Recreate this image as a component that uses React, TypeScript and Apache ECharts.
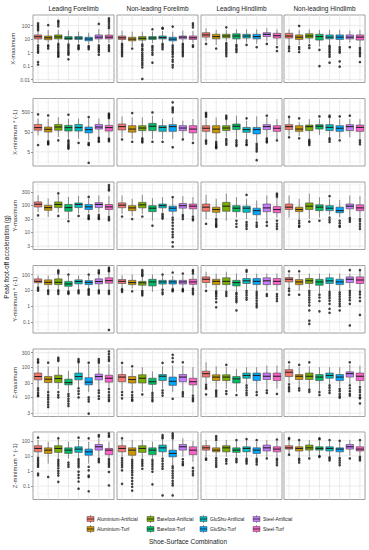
import React, { useEffect, useRef } from 'react';
import * as echarts from 'echarts';

const FONT = 'Liberation Sans, Arial, Helvetica, sans-serif';

const facets = ['Leading Forelimb', 'Non-leading Forelimb', 'Leading Hindlimb', 'Non-leading Hindlimb'];
const combos = ['Aluminium-Artificial', 'Aluminium-Turf', 'Barefoot-Artificial', 'Barefoot-Turf', 'GluShu-Artificial', 'GluShu-Turf', 'Steel-Artificial', 'Steel-Turf'];
const comboColors = ['#F8766D', '#CD9600', '#7CAE00', '#00BE67', '#00BFC4', '#00A9FF', '#C77CFF', '#FF61CC'];
const yTitle = 'Peak foot-off acceleration (g)';
const legendTitle = 'Shoe-Surface Combination';
const measures = ['X-maximum', 'X-minimum * (-1)', 'Y-maximum', 'Y-minimum * (-1)', 'Z-maximum', 'Z-minimum * (-1)'];

// tick labels per row
const xMaxTicks = [0.01, 0.1, 1, 10, 100];
const xMinTicks = [5, 50, 500];
const yMaxTicks = [3, 10, 30, 100, 300];
const yMinTicks = [0.1, 1, 10, 100];
const zMaxTicks = [3, 10, 30, 100, 300];
const zMinTicks = [0.1, 1, 10, 100];

// axis limits per row
const xMaxLimits = [0.00603, 617];
const xMinLimits = [0.966, 2427];
const yMaxLimits = [2.26, 692];
const yMinLimits = [0.02, 372];
const zMaxLimits = [2.34, 398];
const zMinLimits = [0.0129, 380];

// [lower whisker, Q1, median, Q3, upper whisker] per facet, per combination
const xMaxBoxes = [
  [[5, 10.3, 15, 20.5, 36], [5, 9, 12.5, 17, 48], [5.5, 10.5, 14.5, 20.5, 48], [5, 9.5, 11.5, 15.5, 43], [5, 9.5, 12, 15.5, 36], [4.2, 7.5, 10.2, 13.8, 30], [5, 10.5, 14, 20.5, 54], [5, 10.5, 14, 20, 48]],
  [[5.5, 9.5, 12.5, 17, 43], [2.8, 7.5, 10, 13.8, 36], [5, 8.5, 11.5, 15.5, 36], [5, 9.5, 12, 15.5, 36], [5.5, 10.5, 13, 17, 40], [4.5, 7.5, 10, 13.8, 36], [5.5, 10.5, 14, 17, 43], [5, 9.5, 12.5, 17, 40]],
  [[7, 14, 20.5, 30, 64], [3.7, 10.5, 15.5, 23, 48], [7, 12.5, 17, 23, 48], [5, 10.5, 17, 25, 54], [5.5, 12, 17, 23, 54], [4.5, 10.5, 15.5, 23, 54], [7, 15.5, 22.5, 30, 64], [3.7, 12, 18, 27, 54]],
  [[3.7, 12, 17, 27, 54], [3.7, 9.5, 14, 20.5, 48], [5, 12, 17, 25, 54], [2.8, 8.5, 15.5, 23, 48], [3.7, 10.5, 14, 20.5, 48], [3.3, 9.5, 14, 20.5, 48], [5.5, 10.5, 14, 20.5, 43], [2.8, 8.5, 14, 20.5, 48]],
];
const xMaxOutliers = [
  [[150, 110, 80, 60, 45, 3.5, 2.5, 1.8, 1.3, 1, 0.2, 0.13], [110, 3.5, 2.8, 2], [230, 180, 130, 90, 4.5, 3.5, 2.5, 1.8, 1.3, 1, 0.8, 0.6, 0.5], [4, 3, 2.2, 1.6, 1.2, 0.9, 0.7, 0.32], [3.5, 2.8, 2.2, 1.8], [3, 2.4, 1.8], [135, 3.5, 2.6, 2, 1.5, 1.1, 0.7], [350, 260, 190, 130, 90, 65, 3.5, 2.5, 1.8, 1.3]],
  [[4.5, 3.5, 2.5, 1.8, 1.3, 1, 0.75, 0.55], [2], [4, 3, 2, 1.5, 1, 0.7, 0.5, 0.35, 0.25, 0.17, 0.12, 0.08, 0.011], [54, 3, 2.2, 1.5, 1, 0.7, 0.18], [68, 60, 4.5, 3.5, 2.5, 1.8], [85, 3.5, 2.5, 1.8, 1.3, 1, 0.75, 0.5, 0.3, 0.21, 0.12, 0.08], [4.5, 3.5, 2.5, 1.8, 1.3, 1, 0.75, 0.55], [150, 110, 75, 3.5, 2.7]],
  [[4.4], [2], [75, 5, 3.7, 2.7, 2, 1.5, 1.1, 0.8, 0.55], [3.7, 2.8, 2, 1.5, 1.1], [3.7], [2.5], [4.4], [2.5, 1.3]],
  [[2.8, 2, 1.3], [95, 2.5, 1.8, 1.1], [3.5, 2.2], [1.6, 0.1], [3.2, 2.4, 1.8, 1.3, 1, 0.7, 0.5, 0.18], [2.5, 1.8, 1.3, 1, 0.22, 0.09], [2.5], [2.2, 1.6, 1.1, 0.8, 0.55, 0.2]],
];

const xMinBoxes = [
  [[34, 61, 83, 120, 235], [19, 50, 68, 89, 235], [28, 61, 89, 120, 280], [23, 56, 83, 108, 235], [23, 56, 83, 120, 235], [19, 45, 66, 89, 235], [31, 70, 89, 120, 235], [28, 56, 83, 108, 220]],
  [[27, 63, 93, 126, 305], [22, 49, 70, 104, 270], [27, 59, 79, 104, 270], [22, 59, 97, 136, 330], [22, 54, 85, 104, 225], [22, 54, 93, 117, 270], [24, 59, 79, 104, 185], [19, 45, 70, 104, 225]],
  [[22, 54, 77, 104, 225], [19, 45, 70, 104, 270], [27, 59, 79, 104, 200], [22, 66, 97, 126, 330], [22, 48, 66, 85, 185], [15, 40, 66, 85, 305], [27, 66, 93, 117, 270], [22, 54, 77, 104, 225]],
  [[33, 66, 93, 117, 250], [31, 54, 70, 104, 153], [22, 59, 93, 112, 225], [35, 70, 97, 117, 225], [27, 59, 85, 117, 225], [24, 54, 77, 104, 225], [27, 59, 93, 117, 225], [22, 54, 85, 112, 225]],
];
const xMinOutliers = [
  [[385, 11], [340, 17, 15, 13, 12], [19], [370, 19, 16, 13, 11, 9.5, 8.2, 7.3], [14], [280, 14, 12, 11, 1.4], [26, 22, 18, 16], [420, 370, 330, 280, 250, 23, 20, 17]],
  [[21], [450, 16], [24, 20, 17, 15], [480, 16], [16], [1550, 860, 720, 600, 490, 8.5], [21], [14]],
  [[460, 400, 340, 290, 19, 16, 13], [16, 13, 11, 9.5, 8.5, 7.7], [330, 270, 230, 22, 18, 14, 11.5], [19, 15, 12, 10], [243, 19, 15, 12, 11], [12.5, 10, 8, 6.5, 5.2, 1.9], [330, 24, 20, 17, 15], [19]],
  [[290, 27], [243, 24], [20, 17, 15, 13, 11], [305], [330, 280, 24, 20, 16], [305, 19], [330], [19, 15, 12]],
];

const yMaxBoxes = [
  [[55, 83, 105, 128, 225], [36, 63, 79, 96, 170], [52, 79, 103, 128, 225], [30, 58, 79, 103, 196], [48, 79, 103, 117, 213], [48, 67, 84, 103, 170], [52, 79, 103, 120, 225], [41, 67, 84, 103, 213]],
  [[46, 78, 97, 118, 220], [38, 61, 77, 93, 166], [46, 77, 100, 123, 232], [26, 56, 75, 93, 175], [53, 77, 93, 107, 190], [40, 58, 75, 89, 166], [46, 75, 93, 112, 208], [43, 71, 89, 107, 190]],
  [[30, 58, 82, 107, 232], [34, 53, 67, 82, 166], [26, 58, 89, 123, 260], [34, 56, 75, 93, 190], [30, 53, 75, 89, 166], [26, 43, 61, 75, 145], [26, 56, 77, 107, 220], [34, 51, 67, 86, 180]],
  [[34, 67, 82, 107, 220], [30, 56, 67, 82, 166], [30, 67, 89, 117, 260], [34, 61, 82, 100, 190], [43, 61, 75, 93, 166], [34, 51, 61, 82, 152], [38, 71, 89, 107, 220], [34, 61, 77, 100, 208]],
];
const yMaxOutliers = [
  [[41], [], [265, 39], [25], [39], [196, 41, 36, 32, 30], [43, 37, 33, 30], [530, 450, 380, 340, 36, 31, 27]],
  [[37], [30], [37], [17], [46, 40, 35, 31], [190, 34, 28, 22, 17, 13, 10, 8, 6.4, 4.2, 2.9], [42, 36, 30], [37, 31, 27]],
  [[20], [30, 26, 22, 19, 17, 15.5], [], [26, 20, 15.5], [232, 23, 19, 16, 13], [22, 18, 15.5], [23, 17], [260, 230, 200, 26, 20, 16, 13]],
  [[], [26, 21, 17, 15.5], [24], [26], [208, 34, 28, 23], [26, 21, 17, 15.5], [33, 28, 24], [30, 25, 20, 16, 13]],
];

const yMinBoxes = [
  [[17, 30, 37, 53, 86], [12, 23, 32, 46, 86], [12, 23, 32, 53, 110], [9.5, 18, 25.5, 37, 86], [12, 25.5, 36, 46, 86], [14, 23, 32, 41, 86], [12, 25.5, 36, 53, 110], [12, 28, 41, 62, 140]],
  [[14, 27, 37, 48, 90], [13, 23, 31, 43, 100], [12, 21, 30, 37, 70], [8, 19, 34, 50, 100], [14, 25, 34, 43, 82], [14, 25, 34, 43, 82], [14, 25, 34, 43, 90], [16, 24, 34, 50, 90]],
  [[14, 31, 50, 71, 150], [9.4, 23, 37, 50, 115], [9.4, 23, 37, 62, 150], [8, 19, 31, 43, 115], [12, 27, 40, 56, 115], [9.4, 23, 37, 56, 115], [9.4, 23, 40, 62, 115], [9.4, 23, 37, 56, 115]],
  [[16, 34, 50, 64, 115], [9.4, 23, 34, 48, 115], [13, 27, 40, 56, 115], [6.2, 21, 34, 50, 115], [9.4, 27, 40, 62, 115], [8.7, 23, 34, 50, 115], [13, 31, 50, 71, 115], [8.7, 27, 45, 71, 160]],
];
const yMinOutliers = [
  [[15, 12, 9.5], [10, 8, 6], [180, 150, 120, 10, 8, 6], [100, 8.5, 7, 6], [10, 8, 6.5], [100, 12, 10, 8, 6.5, 5.3], [180, 140, 120, 10, 8, 6.5], [270, 220, 180, 160, 9.5, 7.5, 6, 0.031]],
  [[12, 10, 8], [8.7], [190, 150, 120, 95, 82, 9.4, 7.5, 6, 4.8], [], [100, 11, 7.5, 5.8], [134, 12, 10, 8.7], [115, 12, 10, 8.7], [190, 150, 115, 13, 10, 7.5, 5.8]],
  [[9.2], [8.5, 7, 5.5, 4.2, 3, 1.8, 0.85], [8, 6, 4.4], [7, 5.5, 4, 3, 2.3, 1.8, 0.53], [190, 150, 9.4, 7, 5, 3.5, 2.6], [8, 6, 4.5, 3.2, 2.2, 1.5, 1.1, 0.85], [5.8, 4.4], [5.8, 4.2, 3, 2.1]],
  [[160, 13, 9, 5.3], [160, 5.3], [9.4, 7, 5, 3.5, 2.5, 1.7, 1.1, 0.53, 0.12, 0.075], [5.3, 3.5, 2.1, 0.47], [8, 6, 4.5, 3.2, 2.2, 1.4, 0.68, 0.38], [7.5, 5.5, 4, 2.8, 2, 1.4, 1, 0.53], [190, 9.4, 7, 5, 3.5, 2.4, 1.4, 0.06], [190, 8, 5.5, 3.5, 2.1, 0.28]],
];

const zMaxBoxes = [
  [[21.5, 38, 49, 64, 124], [16.7, 31, 40, 49, 104], [19, 31, 42, 54, 104], [15, 26, 31, 40, 75], [21.5, 38, 49, 64, 133], [15, 26, 32, 45, 124], [19, 38, 49, 59, 124], [21.5, 32, 43, 54, 124]],
  [[17, 33, 47, 57, 112], [17, 30, 39, 49, 88], [15.3, 30, 43, 56, 100], [15.3, 27, 33, 43, 72], [19.4, 36, 50, 57, 107], [15.3, 25, 34, 47, 112], [17, 33, 47, 57, 112], [13.3, 26, 33, 43, 100]],
  [[28, 47, 61, 74, 145], [19.4, 36, 47, 56, 107], [19.4, 36, 47, 56, 100], [15.3, 30, 41, 49, 88], [28, 43, 53, 64, 100], [17, 36, 53, 64, 100], [19.4, 39, 50, 64, 112], [19.4, 36, 50, 64, 112]],
  [[31, 49, 68, 83, 119], [22, 39, 50, 57, 100], [20, 39, 50, 64, 107], [17, 36, 47, 57, 100], [28, 43, 53, 64, 100], [22, 36, 47, 57, 100], [28, 47, 61, 70, 119], [25, 36, 50, 64, 112]],
];
const zMaxOutliers = [
  [[180, 155, 140, 20, 17, 14, 12, 11], [140, 15, 12, 10, 8.5, 7, 5.8, 4.8], [205, 180, 160, 15, 12, 10], [13, 11, 9, 7.5, 6.2, 5.2], [185, 160, 145, 20, 16, 13, 10], [140, 10, 8.5, 7.3, 2.9], [185, 160, 140, 17, 14, 11, 9], [330, 270, 220, 185, 160, 19, 15, 12, 10, 8.5, 7.6]],
  [[138, 15, 12, 9.3], [107, 15, 12, 10, 8.5, 7.8], [12.5], [14, 12, 10, 8.5, 7.5], [138, 17, 14, 11.5], [255, 200, 150, 9], [145, 15, 13, 11], [11.5, 9.5, 8.5, 7.5]],
  [[26, 22, 19.5, 12.5], [17, 15, 13, 11], [119, 16, 13], [12], [25, 21, 17, 14, 12], [15, 12], [17, 14], [13]],
  [[145, 27, 22, 19, 16], [119, 20, 17], [145, 18, 15.3], [15, 12], [25, 21, 17, 14], [19, 16, 13, 11, 9.8], [145, 25, 20, 16, 13, 11.5], [22, 18, 15, 12, 10, 9.3, 6.3]],
];

const zMinBoxes = [
  [[8.6, 18.5, 31, 47, 112], [3.1, 14.5, 24, 34, 86], [6.7, 17, 31, 47, 112], [6.7, 14.5, 24, 34, 86], [7.4, 17, 28, 40, 112], [3.1, 11, 18.5, 28, 86], [8.6, 24, 40, 57, 145], [6.7, 12, 24, 31, 86]],
  [[8.6, 18.5, 31, 47, 112], [6.7, 11, 24, 34, 112], [6.7, 17, 31, 47, 112], [6.7, 12, 24, 34, 86], [8.6, 18.5, 34, 52, 112], [2.4, 8.6, 14.5, 24, 112], [8.6, 24, 40, 57, 145], [4, 12, 24, 40, 95]],
  [[8.6, 24, 34, 47, 112], [8.6, 18.5, 24, 34, 86], [8.6, 18.5, 34, 47, 112], [8.6, 17, 24, 34, 95], [8.6, 18.5, 31, 40, 112], [8.6, 14.5, 24, 34, 86], [8.6, 21, 34, 52, 112], [8.6, 18.5, 28, 40, 95]],
  [[14.5, 28, 34, 47, 112], [8.6, 21, 31, 40, 95], [8.6, 24, 34, 52, 112], [10.5, 24, 31, 40, 95], [9.5, 21, 31, 40, 95], [8.6, 18.5, 28, 34, 86], [10.5, 28, 40, 57, 112], [10.5, 21, 28, 40, 95]],
];
const zMinOutliers = [
  [[160, 7.4, 5.5, 4.2, 3.2, 2.4, 1.9, 0.67, 0.52], [0.4], [145, 5.5, 4, 3, 2.2, 1.5, 1, 0.7, 0.5, 0.19], [3.6, 2.6, 1.9], [160, 6, 4.5, 3.3, 2.4, 1.8, 0.9, 0.55, 0.35, 0.2, 0.067], [145, 1.9, 1.1, 0.5, 0.4, 0.045], [240, 190, 6.5, 5, 3.8], [310, 230, 185, 6, 4.5, 3.3, 2.5, 1.9, 0.86, 0.11]],
  [[145, 7, 5, 3.5, 2.5, 1.8, 1.1, 0.14], [5.5, 4, 3, 2.2, 1.6, 1.1, 0.8, 0.55, 0.35, 0.22, 0.14, 0.09, 0.05], [5.5, 4, 3, 2.2, 1.4], [5.5, 4, 2.8, 2, 1.4, 0.9, 0.13], [240, 180, 145, 6.5, 4.5, 3, 2, 1.4, 0.024], [310, 240, 190, 145, 2, 1.5, 1, 0.7, 0.5, 0.35, 0.22, 0.15, 0.11, 0.024], [6, 4, 3, 2.4], [1.6, 1, 0.7, 0.52]],
  [[6.7, 5.5], [200, 150, 112, 7, 5, 3.5, 2.5, 1.9], [6, 4.5, 3.1], [112, 6.5, 5, 3.8], [130, 6.5, 5, 4, 3.1], [112, 6.5, 5, 3.8, 2.7], [6.7], [120, 6.5, 5, 3.5, 2.4]],
  [[150, 130, 12], [112, 6.5, 5, 3.6], [6.7], [145, 125, 9.5, 8.6], [112, 8, 6.5, 5], [100, 7, 5, 3.5, 2.4], [6.7], [112, 8.5, 6.5, 5]],
];

// layout
const colLeft = [33, 117, 201, 284];
const panelW = 81;
const rowTop = [15, 98.5, 182, 265.5, 349, 432];
const panelH = 67.5;

function buildOption() {
  const rows = [
    { boxes: xMaxBoxes, out: xMaxOutliers, ticks: xMaxTicks, lim: xMaxLimits },
    { boxes: xMinBoxes, out: xMinOutliers, ticks: xMinTicks, lim: xMinLimits },
    { boxes: yMaxBoxes, out: yMaxOutliers, ticks: yMaxTicks, lim: yMaxLimits },
    { boxes: yMinBoxes, out: yMinOutliers, ticks: yMinTicks, lim: yMinLimits },
    { boxes: zMaxBoxes, out: zMaxOutliers, ticks: zMaxTicks, lim: zMaxLimits },
    { boxes: zMinBoxes, out: zMinOutliers, ticks: zMinTicks, lim: zMinLimits },
  ];
  const grid: any[] = [];
  const xAxis: any[] = [];
  const yAxis: any[] = [];
  const series: any[] = [];

  rows.forEach((row, r) => {
    const t = row.ticks;
    const step = t[1] / t[0];
    const ext = [t[0] / step, ...t, t[t.length - 1] * step];
    const minor: number[] = [];
    for (let k = 0; k < ext.length - 1; k++) minor.push(Math.sqrt(ext[k] * ext[k + 1]));
    const fmt = (v: number) => {
      const hit = t.find((tv) => Math.abs(Math.log10(v / tv)) < 0.02);
      return hit !== undefined ? String(hit) : '';
    };
    facets.forEach((_f, c) => {
      const idx = r * 4 + c;
      grid.push({
        left: colLeft[c], top: rowTop[r], width: panelW, height: panelH,
        show: true, borderColor: '#a0a0a0', borderWidth: 1, backgroundColor: '#ffffff',
      });
      xAxis.push({
        type: 'category', gridIndex: idx, data: combos,
        axisLine: { show: false }, axisTick: { show: false }, axisLabel: { show: false }, splitLine: { show: false },
      });
      yAxis.push({
        type: 'log', logBase: 10, gridIndex: idx, min: row.lim[0], max: row.lim[1],
        axisLine: { show: false },
        axisTick: { show: c === 0, length: 2, customValues: t, lineStyle: { color: '#555', width: 0.6 } },
        axisLabel: { show: c === 0, customValues: t, formatter: fmt, fontSize: 5, color: '#555', margin: 3, fontFamily: FONT },
        splitLine: { show: false }, minorTick: { show: false }, minorSplitLine: { show: false },
        name: c === 0 ? measures[r] : '', nameLocation: 'middle', nameGap: 12, nameRotate: 90,
        nameTextStyle: { fontSize: 6, color: '#333', fontFamily: FONT },
      });
      // panel grid lines
      series.push({
        type: 'custom', xAxisIndex: idx, yAxisIndex: idx, silent: true, z: 1,
        data: [[0, t[0]]],
        renderItem: (params: any, api: any) => {
          const cs = params.coordSys;
          const children: any[] = [];
          const top = cs.y, bottom = cs.y + cs.height, left = cs.x, right = cs.x + cs.width;
          minor.forEach((v) => {
            const p = api.coord([0, v]);
            if (p[1] > top && p[1] < bottom)
              children.push({ type: 'line', shape: { x1: left, y1: p[1], x2: right, y2: p[1] }, style: { stroke: '#f2f2f2', lineWidth: 0.5 } });
          });
          t.forEach((v) => {
            const p = api.coord([0, v]);
            if (p[1] > top && p[1] < bottom)
              children.push({ type: 'line', shape: { x1: left, y1: p[1], x2: right, y2: p[1] }, style: { stroke: '#e6e6e6', lineWidth: 0.8 } });
          });
          combos.forEach((_cb, i) => {
            const p = api.coord([i, t[0]]);
            children.push({ type: 'line', shape: { x1: p[0], y1: top, x2: p[0], y2: bottom }, style: { stroke: '#e6e6e6', lineWidth: 0.8 } });
          });
          return { type: 'group', children };
        },
      });
      // boxes
      series.push({
        type: 'custom', xAxisIndex: idx, yAxisIndex: idx, silent: true, z: 3,
        encode: { x: 0, y: [1, 2, 3, 4, 5] },
        data: row.boxes[c].map((b, i) => [i, ...b]),
        renderItem: (_params: any, api: any) => {
          const i = api.value(0);
          const lo = api.coord([i, api.value(1)]);
          const q1 = api.coord([i, api.value(2)]);
          const md = api.coord([i, api.value(3)]);
          const q3 = api.coord([i, api.value(4)]);
          const hi = api.coord([i, api.value(5)]);
          const bw = api.size([1, 0], [i, api.value(3)])[0] * 0.74;
          const cx = lo[0];
          const col = comboColors[i];
          return {
            type: 'group',
            children: [
              { type: 'line', shape: { x1: cx, y1: hi[1], x2: cx, y2: q3[1] }, style: { stroke: '#444', lineWidth: 0.6 } },
              { type: 'line', shape: { x1: cx, y1: q1[1], x2: cx, y2: lo[1] }, style: { stroke: '#444', lineWidth: 0.6 } },
              { type: 'rect', shape: { x: cx - bw / 2, y: q3[1], width: bw, height: q1[1] - q3[1] }, style: { fill: col, stroke: '#444', lineWidth: 0.6 } },
              { type: 'line', shape: { x1: cx - bw / 2, y1: md[1], x2: cx + bw / 2, y2: md[1] }, style: { stroke: '#222', lineWidth: 1.1 } },
            ],
          };
        },
      });
      // outliers
      const pts: number[][] = [];
      row.out[c].forEach((vals, i) => vals.forEach((v) => pts.push([i, v])));
      series.push({
        type: 'scatter', xAxisIndex: idx, yAxisIndex: idx, silent: true, z: 4,
        symbol: 'circle', symbolSize: 2.6, itemStyle: { color: '#111' },
        data: pts,
      });
    });
  });

  const graphic: any[] = [];
  facets.forEach((f, c) => {
    graphic.push({
      type: 'text', x: colLeft[c] + panelW / 2, y: 8.5,
      style: { text: f, fontSize: 6.5, fontFamily: FONT, fill: '#1a1a1a', align: 'center', verticalAlign: 'middle' },
    });
  });
  graphic.push({
    type: 'text', x: 6, y: 257, rotation: Math.PI / 2,
    style: { text: yTitle, fontSize: 6.5, fontFamily: FONT, fill: '#1a1a1a', align: 'center', verticalAlign: 'middle' },
  });
  const keyX = [87, 147, 200, 253];
  const keyY = [519, 529];
  combos.forEach((cb, i) => {
    const col = Math.floor(i / 2), rr = i % 2;
    const x = keyX[col], y = keyY[rr];
    graphic.push({ type: 'line', shape: { x1: x + 3.5, y1: y - 4, x2: x + 3.5, y2: y + 4 }, style: { stroke: '#444', lineWidth: 0.5 } });
    graphic.push({ type: 'rect', shape: { x: x, y: y - 2.5, width: 7, height: 5 }, style: { fill: comboColors[i], stroke: '#444', lineWidth: 0.5 } });
    graphic.push({ type: 'line', shape: { x1: x, y1: y, x2: x + 7, y2: y }, style: { stroke: '#222', lineWidth: 0.8 } });
    graphic.push({
      type: 'text', x: x + 10, y: y,
      style: { text: cb, fontSize: 4.8, fontFamily: FONT, fill: '#1a1a1a', align: 'left', verticalAlign: 'middle' },
    });
  });
  graphic.push({
    type: 'text', x: 188, y: 541.5,
    style: { text: legendTitle, fontSize: 6.5, fontFamily: FONT, fill: '#1a1a1a', align: 'center', verticalAlign: 'middle' },
  });

  return { animation: false, backgroundColor: '#ffffff', grid, xAxis, yAxis, series, graphic };
}

export default function App() {
  const ref = useRef<HTMLDivElement>(null);
  useEffect(() => {
    if (!ref.current) return;
    const chart = echarts.init(ref.current, undefined, { renderer: 'svg' });
    chart.setOption(buildOption() as any);
    return () => chart.dispose();
  }, []);
  return <div ref={ref} style={{ position: 'absolute', left: 0, top: 0, width: 369, height: 550 }} />;
}
